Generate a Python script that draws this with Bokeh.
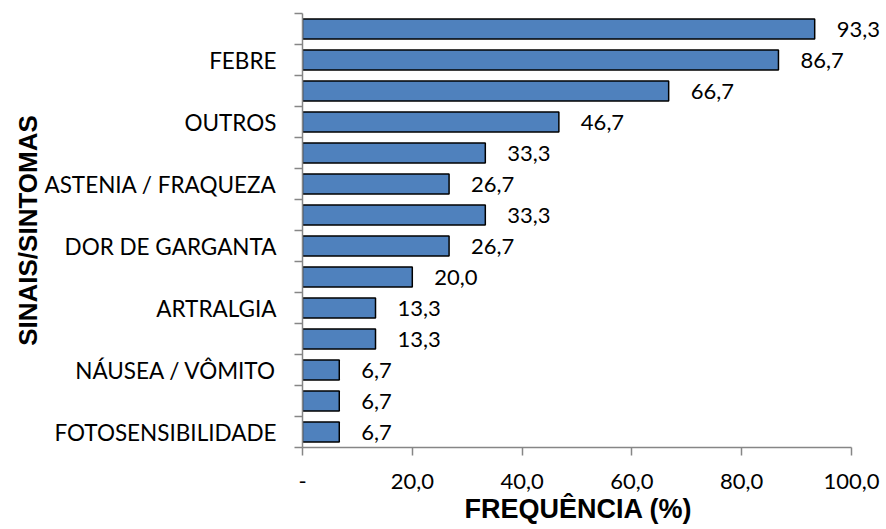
from bokeh.plotting import figure
from bokeh.models import ColumnDataSource, FixedTicker, LabelSet, Title, Range1d
from bokeh.core.properties import value
from bokeh.embed import file_html
from bokeh.resources import INLINE

# Data (top to bottom as shown)
categories = ["", "FEBRE", "", "OUTROS", "", "ASTENIA / FRAQUEZA", "", "DOR DE GARGANTA",
              "", "ARTRALGIA", "", "NÁUSEA / VÔMITO", "", "FOTOSENSIBILIDADE"]
values = [93.3, 86.7, 66.7, 46.7, 33.3, 26.7, 33.3, 26.7, 20.0, 13.3, 13.3, 6.7, 6.7, 6.7]
x_ticks = [0, 20, 40, 60, 80, 100]
x_tick_labels = ["-", "20,0", "40,0", "60,0", "80,0", "100,0"]
x_title = "FREQUÊNCIA (%)"
y_title = "SINAIS/SINTOMAS"

n = len(categories)
ypos = [n - 1 - i + 0.5 for i in range(n)]
labels_txt = [f"{v:.1f}".replace(".", ",") for v in values]

src = ColumnDataSource(dict(y=ypos, v=values, t=labels_txt))

p = figure(width=886, height=529, output_backend="svg", toolbar_location=None,
           x_range=Range1d(0, 106.38), y_range=Range1d(0, n))
p.min_border_left = 302
p.min_border_top = 13
p.min_border_bottom = 82
p.min_border_right = 0
p.outline_line_color = None
p.background_fill_color = "white"
p.border_fill_color = "white"
p.grid.visible = False

p.hbar(y="y", right="v", left=0, height=0.65, source=src,
       fill_color="#4F81BD", line_color="black", line_width=1.5)

labels = LabelSet(x="v", y="y", text="t", source=src, x_offset=22,
                  text_baseline="middle", text_align="left",
                  text_font=value("Lato"), text_font_size=value("22px"), text_color="black")
p.add_layout(labels)

# y axis
p.yaxis.ticker = FixedTicker(ticks=ypos, minor_ticks=list(range(0, n + 1)))
p.yaxis.major_label_overrides = {y: c for y, c in zip(ypos, categories)}
p.yaxis.major_tick_out = 0
p.yaxis.major_tick_in = 0
p.yaxis.minor_tick_out = 8
p.yaxis.minor_tick_in = 0
p.yaxis.minor_tick_line_color = "#868686"
p.yaxis.minor_tick_line_width = 1.5
p.yaxis.axis_line_color = "#868686"
p.yaxis.axis_line_width = 1.5
p.yaxis.major_label_text_font = "Lato"
p.yaxis.major_label_text_font_size = "22.5px"
p.yaxis.major_label_text_color = "black"
p.yaxis.major_label_standoff = 18
p.yaxis.axis_label = y_title
p.yaxis.axis_label_text_font = "Liberation Sans"
p.yaxis.axis_label_text_font_style = "bold"
p.yaxis.axis_label_text_font_size = "26px"
p.yaxis.axis_label_text_color = "black"
p.yaxis.axis_label_standoff = -2

# x axis
p.xaxis.bounds = (0, 100)
p.xaxis.ticker = FixedTicker(ticks=x_ticks)
p.xaxis.major_label_overrides = {t: l for t, l in zip(x_ticks, x_tick_labels)}
p.xaxis.major_tick_out = 8
p.xaxis.major_tick_in = 0
p.xaxis.minor_tick_out = 0
p.xaxis.minor_tick_in = 0
p.xaxis.major_tick_line_color = "#868686"
p.xaxis.major_tick_line_width = 1.5
p.xaxis.axis_line_color = "#868686"
p.xaxis.axis_line_width = 1.5
p.xaxis.major_label_text_font = "Lato"
p.xaxis.major_label_text_font_size = "22px"
p.xaxis.major_label_text_color = "black"
p.xaxis.major_label_standoff = 18

# x title placed under the 0-100 part of the axis
xt = Title(text=x_title, align="left", offset=162, standoff=0,
           text_font="Liberation Sans", text_font_style="bold",
           text_font_size="27px", text_color="black")
p.add_layout(xt, "below")

open("out.html", "w").write(file_html(p, INLINE))
